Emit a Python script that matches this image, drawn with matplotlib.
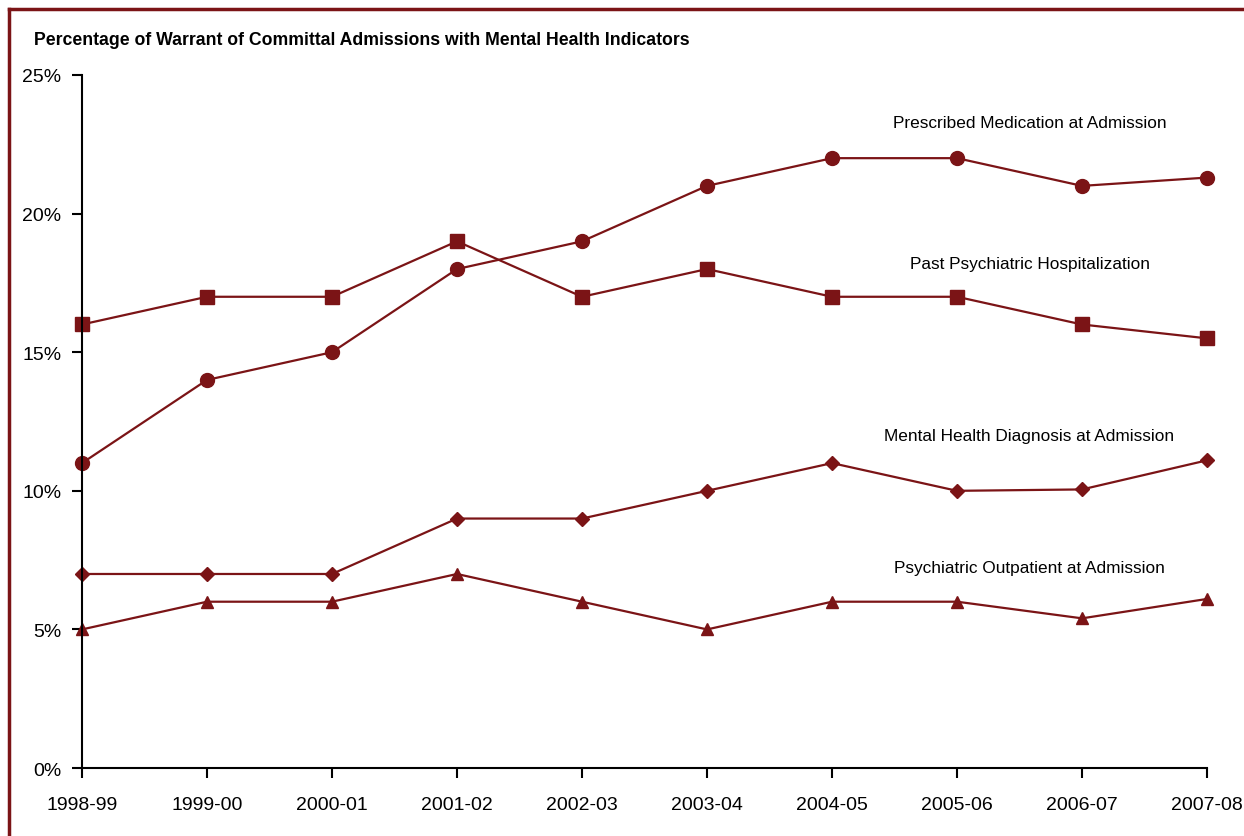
import matplotlib
matplotlib.use("Agg")
import matplotlib.pyplot as plt
from matplotlib.lines import Line2D

plt.rcParams['font.family'] = ['Liberation Sans', 'DejaVu Sans']

years = ['1998-99', '1999-00', '2000-01', '2001-02', '2002-03',
         '2003-04', '2004-05', '2005-06', '2006-07', '2007-08']

prescribed = [11, 14, 15, 18, 19, 21, 22, 22, 21, 21.3]
past_hosp = [16, 17, 17, 19, 17, 18, 17, 17, 16, 15.5]
mh_diag = [7, 7, 7, 9, 9, 10, 11, 10, 10.05, 11.1]
outpatient = [5, 6, 6, 7, 6, 5, 6, 6, 5.4, 6.1]

labels = ['Prescribed Medication at Admission', 'Past Psychiatric Hospitalization',
          'Mental Health Diagnosis at Admission', 'Psychiatric Outpatient at Admission']
label_y = [23.3, 18.2, 12.0, 7.25]

red = '#7b1416'

fig = plt.figure(figsize=(12.44, 8.37), dpi=100)
ax = fig.add_axes([0.0659, 0.0812, 0.9044, 0.828])

x = list(range(len(years)))
series = [(prescribed, 'o', 10), (past_hosp, 's', 9.5), (mh_diag, 'D', 7), (outpatient, '^', 9)]
for (vals, m, ms), lab, ly in zip(series, labels, label_y):
    ax.plot(x, vals, color=red, marker=m, markersize=ms, linewidth=1.6, clip_on=False)
    ax.text(7.58, ly, lab, ha='center', va='center', fontsize=12.4)

ax.set_xlim(0, 9)
ax.set_ylim(0, 25)
ax.set_xticks(x)
ax.set_xticklabels(years, fontsize=14)
ax.set_yticks([0, 5, 10, 15, 20, 25])
ax.set_yticklabels(['0%', '5%', '10%', '15%', '20%', '25%'], fontsize=14)
ax.spines['top'].set_visible(False)
ax.spines['right'].set_visible(False)
for s in ['left', 'bottom']:
    ax.spines[s].set_linewidth(1.5)
ax.tick_params(axis='both', length=7, width=1.5, direction='out')
ax.tick_params(axis='x', pad=13)
ax.tick_params(axis='y', pad=8)

fig.text(0.027, 0.952, 'Percentage of Warrant of Committal Admissions with Mental Health Indicators',
         fontsize=12.7, fontweight='bold', ha='left', va='center')

# dark red frame on left and top
fig.add_artist(Line2D([0.0075, 0.0075], [0, 0.988], color=red, linewidth=2.5))
fig.add_artist(Line2D([0.0075, 1.0], [0.988, 0.988], color=red, linewidth=2.5))

fig.savefig('out.png', dpi=100)
